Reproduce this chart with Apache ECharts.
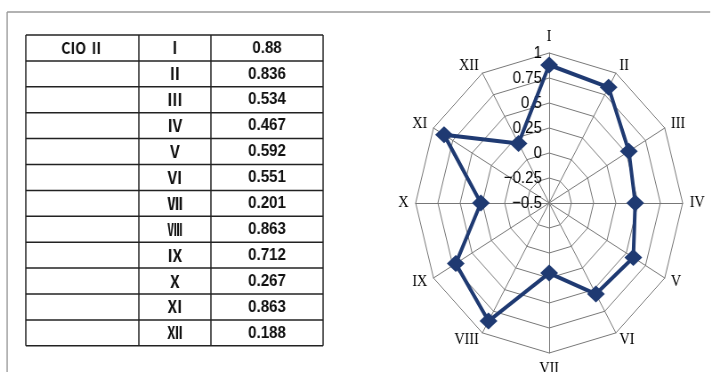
<!DOCTYPE html>
<html>
<head>
<meta charset="utf-8">
<script src="https://cdn.jsdelivr.net/npm/echarts@6/dist/echarts.min.js"></script>
<style>
  html, body { margin: 0; padding: 0; background: #fff; overflow: hidden; }
  /* the scanned original is squeezed horizontally, so the whole chart is too */
  #main { width: 811px; height: 372px; transform: scaleX(0.89); transform-origin: 0 0; }
</style>
</head>
<body>
<div id="main"></div>
<script>
var seriesName = 'CIO Ⅱ';
var axisNames = ['I', 'II', 'III', 'IV', 'V', 'VI', 'VII', 'VIII', 'IX', 'X', 'XI', 'XII'];
var tableNames = ['Ⅰ', 'Ⅱ', 'Ⅲ', 'Ⅳ', 'Ⅴ', 'Ⅵ', 'Ⅶ', 'Ⅷ', 'Ⅸ', 'Ⅹ', 'Ⅺ', 'Ⅻ'];
var values = [0.88, 0.836, 0.534, 0.467, 0.592, 0.551, 0.201, 0.863, 0.712, 0.267, 0.863, 0.188];
var tickLabels = ['−0.5', '−0.25', '0', '0.25', '0.5', '0.75', '1'];
var axisMin = -0.5, axisMax = 1;

(function(){
	var myChart = echarts.init(document.getElementById('main'));

	// table built from the arrays
	var colX = [29, 156, 237, 363];
	var top = 35, rowH = 25.9;
	var n = values.length;
	var bottom = top + rowH * n;
	var graphics = [];
	var lineStyle = { stroke: '#222', lineWidth: 1.5 };

	// frame around the page
	graphics.push({ type: 'line', shape: { x1: 8, y1: 12, x2: 798, y2: 12 }, style: { stroke: '#999', lineWidth: 1.5 } });
	graphics.push({ type: 'line', shape: { x1: 8, y1: 12, x2: 8, y2: 372 }, style: { stroke: '#999', lineWidth: 1.5 } });

	for (var r = 0; r <= n; r++) {
		var y = top + r * rowH;
		graphics.push({ type: 'line', shape: { x1: colX[0], y1: y, x2: colX[3], y2: y }, style: lineStyle });
	}
	colX.forEach(function (x) {
		graphics.push({ type: 'line', shape: { x1: x, y1: top, x2: x, y2: bottom }, style: lineStyle });
	});
	var textStyle = function (txt, x, y, font, size) {
		return {
			type: 'text', x: x, y: y,
			style: {
				text: txt, fill: '#111', align: 'center', verticalAlign: 'middle',
				fontSize: size, fontFamily: font, fontWeight: 'bold'
			}
		};
	};
	graphics.push(textStyle(seriesName, (colX[0] + colX[1]) / 2, top + rowH / 2, 'Noto Sans CJK JP', 16));
	for (var i = 0; i < n; i++) {
		var cy = top + rowH * i + rowH / 2;
		graphics.push(textStyle(tableNames[i], (colX[1] + colX[2]) / 2, cy, 'Noto Sans CJK JP', 17));
		graphics.push(textStyle(String(values[i]), (colX[2] + colX[3]) / 2, cy, 'Liberation Sans Narrow, Liberation Sans', 17));
	}

	// radar goes counter-clockwise, so walk the axes I, XII, XI ... II to get them clockwise
	var order = [0];
	for (var k = n - 1; k >= 1; k--) order.push(k);

	var option = {
		animation: false,
		graphic: graphics,
		radar: {
			center: [617, 203],
			radius: 150,
			startAngle: 90,
			shape: 'polygon',
			splitNumber: 6,
			nameGap: 8,
			axisName: {
				color: '#000',
				fontFamily: 'Liberation Serif',
				fontSize: 16
			},
			splitArea: { show: false },
			splitLine: { lineStyle: { color: '#777', width: 1 } },
			axisLine: { lineStyle: { color: '#777', width: 1 } },
			axisTick: { show: false },
			axisLabel: { show: false },
			indicator: order.map(function (idx, i) {
				var ind = { name: axisNames[idx], min: axisMin, max: axisMax };
				if (i === 0) {
					ind.axisLabel = {
						show: true,
						color: '#000',
						fontFamily: 'Liberation Sans',
						fontSize: 17,
						formatter: function (v) {
							return tickLabels[Math.round((v - axisMin) / 0.25)];
						}
					};
				}
				return ind;
			})
		},
		series: [
			{
				name: seriesName,
				type: 'radar',
				symbol: 'diamond',
				symbolSize: [20, 17],
				lineStyle: { color: '#1f3a72', width: 4 },
				itemStyle: { color: '#1f3a72' },
				data: [{ value: order.map(function (idx) { return values[idx]; }), name: seriesName }]
			}
		]
	};
	myChart.setOption(option);
})();
</script>
</body>
</html>
